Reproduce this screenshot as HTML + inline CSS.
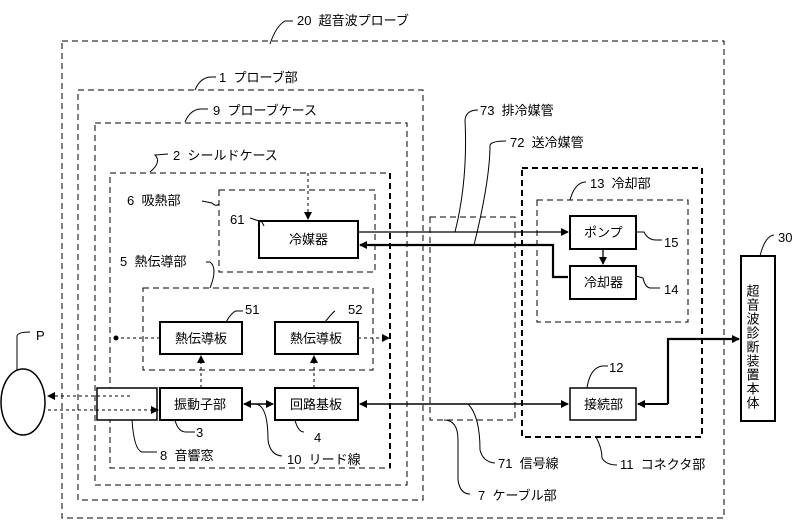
<!DOCTYPE html>
<html><head><meta charset="utf-8"><style>
body{margin:0;background:#fff}
text{font-family:"Liberation Sans","Noto Sans CJK JP",sans-serif;font-size:13px;fill:#000;white-space:pre}
</style></head><body>
<svg width="802" height="520" viewBox="0 0 802 520" xmlns="http://www.w3.org/2000/svg">
<defs>
<marker id="a" markerWidth="8" markerHeight="8" refX="7" refY="4" orient="auto" markerUnits="userSpaceOnUse"><path d="M0,0 L8,4 L0,8z" fill="#000"/></marker>
</defs>
<g fill="none" stroke="#000" stroke-width="1" stroke-dasharray="6,4">
<rect x="62" y="41" width="662" height="477"/>
<rect x="78" y="90" width="345" height="410"/>
<rect x="95" y="123" width="312" height="362"/>
<rect x="110" y="173" width="280" height="295"/>
<rect x="219" y="190" width="156" height="82"/>
<rect x="143" y="288" width="230" height="82"/>
<rect x="430" y="217" width="85" height="203"/>
<rect x="537" y="200" width="151" height="122"/>
<rect x="522" y="168" width="180" height="269" stroke-width="2"/>
<line x1="390" y1="173" x2="390" y2="468" stroke-width="2"/>
</g>
<g fill="#fff" stroke="#000" stroke-width="2">
<rect x="259" y="221" width="99" height="37"/>
<rect x="160" y="322" width="82" height="32"/>
<rect x="275" y="322" width="83" height="32"/>
<rect x="97" y="388" width="60" height="32" stroke-width="1.5"/>
<rect x="160" y="388" width="82" height="32"/>
<rect x="275" y="388" width="83" height="32"/>
<rect x="570" y="216" width="66" height="33"/>
<rect x="570" y="266" width="66" height="33"/>
<rect x="570" y="388" width="66" height="32" stroke-width="1.5"/>
<rect x="741" y="256" width="34" height="165"/>
</g>
<ellipse cx="23" cy="402" rx="22" ry="33" fill="none" stroke="#000" stroke-width="1.5"/>
<g fill="none" stroke="#000" stroke-width="1" stroke-dasharray="3,3">
<line x1="308" y1="173" x2="308" y2="219" marker-end="url(#a)"/>
<line x1="201" y1="388" x2="201" y2="356" marker-end="url(#a)"/>
<line x1="314" y1="388" x2="314" y2="356" marker-end="url(#a)"/>
<line x1="160" y1="338" x2="116" y2="338"/>
<line x1="358" y1="338" x2="389" y2="338" marker-end="url(#a)"/>
<line x1="130" y1="396" x2="48" y2="396" marker-end="url(#a)"/>
<line x1="48" y1="410" x2="158" y2="410" marker-end="url(#a)"/>
</g>
<circle cx="116" cy="338" r="2.5"/>
<g fill="none" stroke="#000">
<line x1="358" y1="232" x2="568" y2="232" stroke-width="1.3" marker-end="url(#a)"/>
<polyline points="568,277 553,277 553,245 360,245" stroke-width="2.2" marker-end="url(#a)"/>
<line x1="603" y1="249" x2="603" y2="264" stroke-width="1.3" marker-end="url(#a)"/>
<line x1="250" y1="404" x2="244" y2="404" stroke-width="1.5" marker-end="url(#a)"/>
<line x1="244" y1="404" x2="273" y2="404" stroke-width="1.5" marker-end="url(#a)"/>
<line x1="460" y1="404" x2="360" y2="404" stroke-width="1.5" marker-end="url(#a)"/>
<line x1="460" y1="404" x2="568" y2="404" stroke-width="1.5" marker-end="url(#a)"/>
<polyline points="668,404 638,404" stroke-width="2" marker-end="url(#a)"/>
<polyline points="668,404 668,339 739,339" stroke-width="2.2" marker-end="url(#a)"/>
<g stroke-width="1">
<path d="M270,44 Q276,26 285,21 L293,21"/>
<path d="M195,90 Q200,78 210,77 L216,77"/>
<path d="M185,122 Q190,110 200,109 L208,109"/>
<path d="M150,172 Q162,162 155,155 L168,154"/>
<path d="M202,201 L212,203 Q216,207 219,204"/>
<path d="M264,226 L262,222 L250,218"/>
<path d="M210,288 Q218,268 210,262 L206,262"/>
<path d="M226,322 Q232,312 236,311 L243,311"/>
<path d="M325,322 Q333,312 335,311"/>
<path d="M17,370 L17,336 Q18,332 30,332"/>
<path d="M175,420 Q178,432 186,432 L195,432"/>
<path d="M295,420 Q298,432 304,432"/>
<path d="M132,420 Q134,450 142,452 L157,452"/>
<path d="M256,404 Q268,406 268,440 Q270,455 282,456"/>
<path d="M455,232 Q468,180 465,120 Q466,110 478,110"/>
<path d="M474,245 Q490,180 490,145 Q492,141 506,141"/>
<path d="M570,200 Q575,182 586,182"/>
<path d="M636,232 L644,232 Q648,240 656,240 L662,240"/>
<path d="M636,276 L643,278 Q645,287 650,288 L660,288"/>
<path d="M760,256 Q765,236 774,235"/>
<path d="M587,388 Q590,368 602,366 L608,366"/>
<path d="M468,404 Q480,416 480,450 Q483,462 495,463"/>
<path d="M596,437 Q602,448 602,458 Q606,465 617,465"/>
<path d="M444,420 Q458,420 458,440 L458,480 Q460,494 470,494"/>
</g>
</g>
<text x="297" y="25">20  超音波プローブ</text>
<text x="219" y="82">1  プローブ部</text>
<text x="213" y="115">9  プローブケース</text>
<text x="173" y="160">2  シールドケース</text>
<text x="127" y="205">6  吸熱部</text>
<text x="230" y="224">61</text>
<text x="120" y="266">5  熱伝導部</text>
<text x="245" y="314">51</text>
<text x="348" y="314">52</text>
<text x="36" y="340">P</text>
<text x="196" y="437">3</text>
<text x="314" y="442">4</text>
<text x="160" y="460">8  音響窓</text>
<text x="287" y="464">10  リード線</text>
<text x="480" y="115">73  排冷媒管</text>
<text x="510" y="147">72  送冷媒管</text>
<text x="590" y="188">13  冷却部</text>
<text x="664" y="247">15</text>
<text x="664" y="294">14</text>
<text x="778" y="242">30</text>
<text x="609" y="372">12</text>
<text x="498" y="468">71  信号線</text>
<text x="620" y="469">11  コネクタ部</text>
<text x="478" y="500">7  ケーブル部</text>
<text x="289" y="244">冷媒器</text>
<text x="175" y="343">熱伝導板</text>
<text x="290" y="343">熱伝導板</text>
<text x="174" y="409">振動子部</text>
<text x="290" y="409">回路基板</text>
<text x="584" y="237">ポンプ</text>
<text x="584" y="287">冷却器</text>
<text x="584" y="409">接続部</text>
<text x="752" y="284" style="writing-mode:vertical-rl;font-size:13px;letter-spacing:1px">超音波診断装置本体</text>
</svg>
</body></html>
